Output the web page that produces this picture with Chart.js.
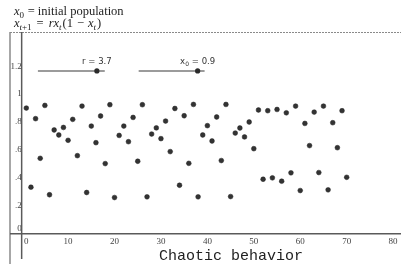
<!DOCTYPE html>
<html>
<head>
<meta charset="utf-8">
<title>Chaotic behavior</title>
<script src="https://cdn.jsdelivr.net/npm/chart.js"></script>
<style>
    html, body { margin: 0; padding: 0; background: #fff; }
    #wrap { position: relative; width: 401px; height: 264px; }
</style>
</head>
<body>
<div id="wrap"><canvas id="popChart" width="401" height="264"></canvas></div>
<script>
// Time steps (x) and population values
const timeSteps = [1, 2, 3, 4, 5, 6, 7, 8, 9, 10, 11, 12, 13, 14, 15, 16, 17, 18, 19, 20,
    21, 22, 23, 24, 25, 26, 27, 28, 29, 30, 31, 32, 33, 34, 35, 36, 37, 38, 39, 40,
    41, 42, 43, 44, 45, 46, 47, 48, 49, 50, 51, 52, 53, 54, 55, 56, 57, 58, 59, 60,
    61, 62, 63, 64, 65, 66, 67, 68, 69, 70];
const population = [0.900, 0.333, 0.824, 0.540, 0.919, 0.279, 0.743, 0.707, 0.761, 0.669,
    0.819, 0.559, 0.914, 0.295, 0.771, 0.652, 0.843, 0.502, 0.924, 0.259,
    0.704, 0.771, 0.659, 0.833, 0.519, 0.924, 0.264, 0.714, 0.758, 0.681,
    0.807, 0.588, 0.897, 0.347, 0.845, 0.504, 0.926, 0.264, 0.707, 0.774,
    0.664, 0.836, 0.524, 0.926, 0.266, 0.721, 0.757, 0.693, 0.800, 0.609,
    0.886, 0.390, 0.881, 0.400, 0.890, 0.376, 0.866, 0.436, 0.914, 0.309,
    0.790, 0.631, 0.871, 0.438, 0.914, 0.314, 0.795, 0.616, 0.881, 0.404];
const xTicks = [0, 10, 20, 30, 40, 50, 60, 70, 80];
const yTicks = [0, 0.2, 0.4, 0.6, 0.8, 1, 1.2];

// Slider widgets (in axis units)
const sliders = [
    { name: 'r', value: '3.7', from: 3.5, to: 17.9, knob: 16.2, level: 1.166 },
    { name: 'x', sub: '0', value: '0.9', from: 25.2, to: 39.4, knob: 37.9, level: 1.166 }
];

const tickFont = { family: "'Liberation Serif'", size: 9 };
const axisColor = '#5a5a5a';

// draws a run of mixed italic / subscript text, "gap" adds extra space before a part
function drawRich(ctx, x, y, parts, size) {
    parts.forEach(function(p) {
        x += p.gap || 0;
        const fs = p.sub ? size * 0.72 : size;
        ctx.font = (p.it ? 'italic ' : '') + fs + "px 'Liberation Serif'";
        ctx.fillText(p.t, x, y + (p.sub ? size * 0.25 : 0));
        x += ctx.measureText(p.t).width;
    });
}

// trim the label padding Chart.js adds around the axes
function noPadding(scale) {
    scale.paddingLeft = 0;
    scale.paddingRight = 0;
    scale.paddingTop = 0;
    scale.paddingBottom = 0;
}

const decor = {
    id: 'decor',
    beforeDatasetsDraw(chart) {
        const ctx = chart.ctx;
        const area = chart.chartArea;
        const xs = chart.scales.x, ys = chart.scales.y;
        ctx.save();
        // frame: left edge and dotted top edge
        ctx.strokeStyle = '#8a8a8a';
        ctx.lineWidth = 1.5;
        ctx.beginPath();
        ctx.moveTo(area.left, area.top);
        ctx.lineTo(area.left, chart.height);
        ctx.stroke();
        ctx.setLineDash([2, 1]);
        ctx.lineWidth = 1;
        ctx.beginPath();
        ctx.moveTo(area.left, area.top + 0.5);
        ctx.lineTo(chart.width, area.top + 0.5);
        ctx.stroke();
        ctx.setLineDash([]);

        // axes crossing at the origin, running out to the canvas edges
        const x0 = xs.getPixelForValue(0), y0 = ys.getPixelForValue(0);
        ctx.strokeStyle = axisColor;
        ctx.lineWidth = 1.5;
        ctx.beginPath();
        ctx.moveTo(area.left, y0);
        ctx.lineTo(chart.width, y0);
        ctx.moveTo(x0, area.top);
        ctx.lineTo(x0, chart.height - 5);
        ctx.stroke();

        // sliders
        sliders.forEach(function(s) {
            const y = ys.getPixelForValue(s.level);
            ctx.strokeStyle = '#7a7a7a';
            ctx.lineWidth = 1.5;
            ctx.beginPath();
            ctx.moveTo(xs.getPixelForValue(s.from), y);
            ctx.lineTo(xs.getPixelForValue(s.to), y);
            ctx.stroke();
            const kx = xs.getPixelForValue(s.knob);
            ctx.fillStyle = '#2a2a2a';
            ctx.beginPath();
            ctx.arc(kx, y, 2.6, 0, Math.PI * 2);
            ctx.fill();

            // label centred over the knob
            ctx.fillStyle = '#333';
            ctx.textAlign = 'left';
            ctx.font = "8.5px 'DejaVu Sans'";
            const wName = ctx.measureText(s.name).width;
            const rest = ' = ' + s.value;
            const wRest = ctx.measureText(rest).width;
            const wSub = s.sub ? 4 : 0;
            let lx = kx - (wName + wSub + wRest) / 2;
            ctx.fillText(s.name, lx, y - 7);
            lx += wName;
            if (s.sub) {
                ctx.font = "6px 'DejaVu Sans'";
                ctx.fillText(s.sub, lx, y - 5);
                ctx.font = "8.5px 'DejaVu Sans'";
                lx += wSub;
            }
            ctx.fillText(rest, lx, y - 7);
        });
        ctx.restore();
    },
    afterDraw(chart) {
        const ctx = chart.ctx;
        ctx.save();
        ctx.fillStyle = '#222';
        ctx.textAlign = 'left';
        ctx.textBaseline = 'alphabetic';
        drawRich(ctx, 14, 15, [
            { t: 'x', it: true }, { t: '0', sub: true }, { t: ' = initial population', gap: 0.5 }
        ], 12.5);
        drawRich(ctx, 14, 26.5, [
            { t: 'x', it: true }, { t: 't', it: true, sub: true }, { t: '+1', sub: true },
            { t: '=', gap: 5 }, { t: 'r', it: true, gap: 5 }, { t: 'x', it: true },
            { t: 't', it: true, sub: true }, { t: '(1', gap: 1 }, { t: '\u2212', gap: 4 },
            { t: 'x', it: true, gap: 4 }, { t: 't', it: true, sub: true }, { t: ')', gap: 1 }
        ], 12.5);
        // caption
        ctx.font = "15px 'Liberation Mono'";
        ctx.fillText('Chaotic behavior', 159, 260);
        ctx.restore();
    }
};

const ctx = document.getElementById('popChart').getContext('2d');
const popChart = new Chart(ctx, {
    type: 'scatter',
    data: {
        datasets: [{
            label: 'population',
            data: timeSteps.map(function(t, i) { return { x: t, y: population[i] }; }),
            backgroundColor: '#333333',
            borderColor: '#222222',
            borderWidth: 0.5,
            pointRadius: 2.4
        }]
    },
    options: {
        responsive: false,
        animation: false,
        layout: { padding: { left: 10, top: 32, right: 0, bottom: 0 } },
        plugins: {
            legend: { display: false },
            tooltip: { enabled: false }
        },
        scales: {
            x: {
                type: 'linear',
                position: { y: 0 },
                // Chart.js keeps ~4.5px at the right for the last label
                min: -2.51,
                max: 80.73,
                afterBuildTicks: function(scale) {
                    scale.ticks = xTicks.map(function(v) { return { value: v }; });
                },
                afterFit: noPadding,
                grid: { display: false, drawTicks: false },
                border: { display: false },
                ticks: {
                    padding: 3,
                    maxRotation: 0,
                    autoSkip: false,
                    color: '#444',
                    font: tickFont,
                    callback: function(v) { return v === 0 ? '    0' : String(v); }
                }
            },
            y: {
                type: 'linear',
                position: { x: 0 },
                // and ~4px at the bottom
                min: -0.185,
                max: 1.445,
                afterBuildTicks: function(scale) {
                    scale.ticks = yTicks.map(function(v) { return { value: v }; });
                },
                afterFit: noPadding,
                grid: { display: false, drawTicks: false },
                border: { display: false },
                ticks: {
                    padding: 3,
                    autoSkip: false,
                    color: '#444',
                    font: tickFont,
                    callback: function(v) {
                        if (v === 0) return ['0', ''];
                        return v < 1 ? String(v).replace('0.', '.') : String(v);
                    }
                }
            }
        }
    },
    plugins: [decor]
});
</script>
</body>
</html>
